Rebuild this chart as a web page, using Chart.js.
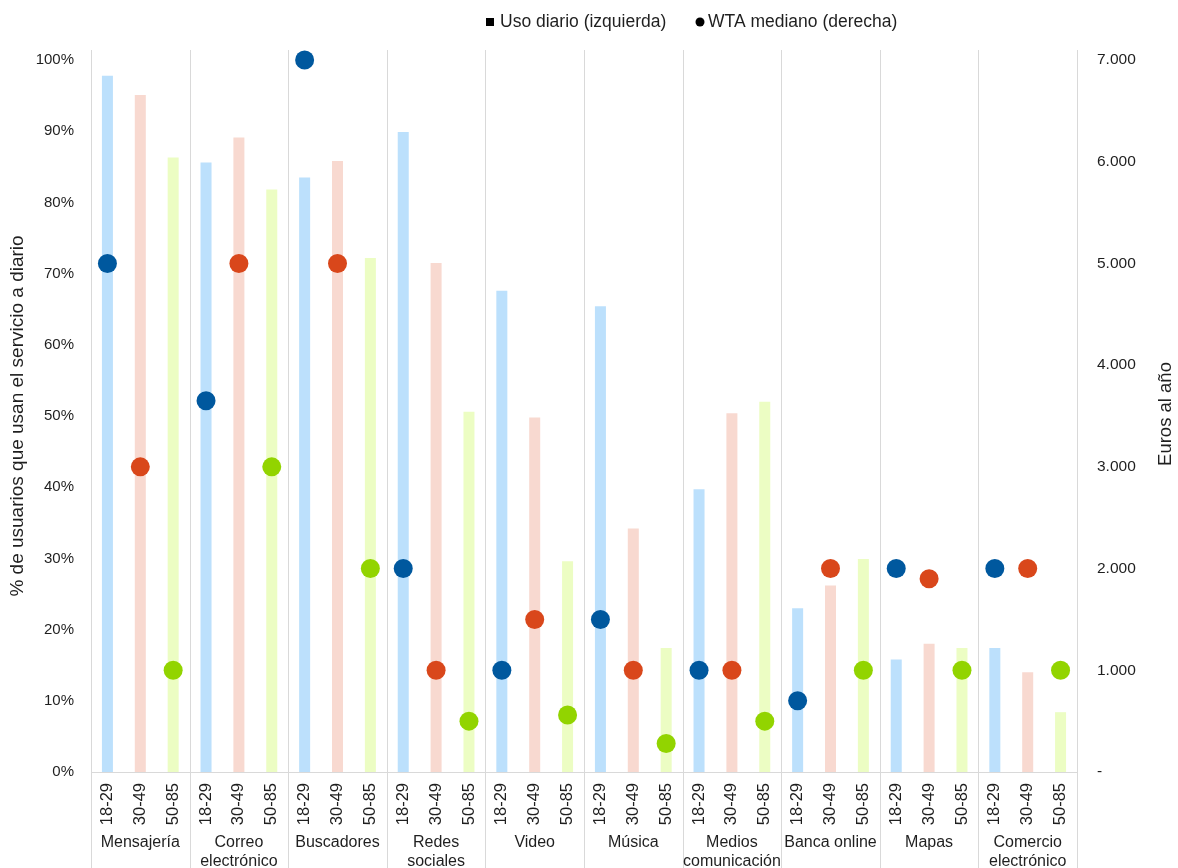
<!DOCTYPE html>
<html>
<head>
<meta charset="utf-8">
<script src="https://cdn.jsdelivr.net/npm/chart.js@4/dist/chart.umd.min.js"></script>
<style>
  html, body { margin: 0; padding: 0; background: #ffffff; }
  #wrap { width: 1178px; height: 868px; }
</style>
</head>
<body>
<div id="wrap"><canvas id="chart" width="1178" height="868"></canvas></div>
<script>
// Services (group names, split over lines) and age brackets
const services = [
  ['Mensajería'], ['Correo', 'electrónico'], ['Buscadores'], ['Redes', 'sociales'],
  ['Video'], ['Música'], ['Medios', 'comunicación'], ['Banca online'], ['Mapas'],
  ['Comercio', 'electrónico']
];
const ageGroups = ['18-29', '30-49', '50-85'];

// Share of users who use the service daily (%), per service: 18-29, 30-49, 50-85
const dailyUse = [
  97.8, 95.1, 86.3,
  85.6, 89.1, 81.8,
  83.5, 85.8, 72.2,
  89.9, 71.5, 50.6,
  67.6, 49.8, 29.6,
  65.4, 34.2, 17.4,
  39.7, 50.4, 52.0,
  23.0, 26.2, 29.9,
  15.8, 18.0, 17.4,
  17.4, 14.0, 8.4
];

// Median willingness to accept (euros per year), same order
const wtaMedian = [
  5000, 3000, 1000,
  3650, 5000, 3000,
  7000, 5000, 2000,
  2000, 1000, 500,
  1000, 1500, 560,
  1500, 1000, 280,
  1000, 1000, 500,
  700, 2000, 1000,
  2000, 1900, 1000,
  2000, 2000, 1000
];

// Axis ranges
const usageTicks = { min: 0, max: 100, step: 10 };
const euroTicks = { min: 0, max: 7000, step: 1000 };

const legendItems = ['Uso diario (izquierda)', 'WTA mediano (derecha)'];
const leftTitle = '% de usuarios que usan el servicio a diario';
const rightTitle = 'Euros al año';

const barColors = ['#bce0fc', '#f8d9d0', '#ecfdc3'];
const dotColors = ['#00589e', '#d9471b', '#92d400'];
const textColor = '#1f1f1f';
const lineColor = '#d9d9d9';
const FONT = '"Liberation Sans", Arial, Helvetica, sans-serif';

const labels = [];
services.forEach(() => ageGroups.forEach(a => labels.push(a)));

const fmtEuro = v => v === 0 ? '-' : String(v).replace(/\B(?=(\d{3})+(?!\d))/g, '.');

const decorations = {
  id: 'decorations',
  beforeDatasetsDraw(chart) {
    const { ctx, chartArea: area } = chart;
    const x = chart.scales.x;
    ctx.save();
    ctx.strokeStyle = lineColor;
    ctx.lineWidth = 1;
    for (let g = 0; g <= services.length; g++) {
      const px = Math.round(x.getPixelForValue(g * ageGroups.length - 0.5)) + 0.5;
      ctx.beginPath();
      ctx.moveTo(px, area.top - 10);
      ctx.lineTo(px, chart.height);
      ctx.stroke();
    }
    ctx.restore();
  },
  afterDraw(chart) {
    const { ctx, chartArea: area } = chart;
    const x = chart.scales.x;
    const y2 = chart.scales.y2;
    ctx.save();
    ctx.fillStyle = textColor;

    // service names under the age labels
    ctx.font = '16px ' + FONT;
    ctx.textAlign = 'center';
    ctx.textBaseline = 'middle';
    services.forEach((lines, g) => {
      const cx = x.getPixelForValue(g * ageGroups.length + 1);
      lines.forEach((t, k) => ctx.fillText(t, cx, area.bottom + 71 + k * 19));
    });

    // right axis title, reading bottom to top
    ctx.font = '18.5px ' + FONT;
    ctx.save();
    ctx.translate(y2.right - 12, (area.top + area.bottom) / 2 - 2);
    ctx.rotate(-Math.PI / 2);
    ctx.fillText(rightTitle, 0, 0);
    ctx.restore();

    // legend
    ctx.font = '17.5px ' + FONT;
    ctx.textAlign = 'left';
    ctx.fillStyle = '#000000';
    const ly = 22;
    ctx.fillRect(486, ly - 4, 8, 8);
    ctx.fillStyle = textColor;
    ctx.fillText(legendItems[0], 500, ly);
    ctx.fillStyle = '#000000';
    ctx.beginPath();
    ctx.arc(700, ly, 4.5, 0, Math.PI * 2);
    ctx.fill();
    ctx.fillStyle = textColor;
    ctx.fillText(legendItems[1], 708, ly);
    ctx.restore();
  }
};

new Chart(document.getElementById('chart'), {
  data: {
    labels,
    datasets: [
      {
        type: 'line',
        label: legendItems[1],
        data: wtaMedian,
        yAxisID: 'y2',
        showLine: false,
        pointRadius: 9.5,
        pointHoverRadius: 9.5,
        pointBorderWidth: 0,
        pointBackgroundColor: wtaMedian.map((_, i) => dotColors[i % 3]),
        pointBorderColor: wtaMedian.map((_, i) => dotColors[i % 3]),
        clip: false,
        order: 0
      },
      {
        type: 'bar',
        label: legendItems[0],
        data: dailyUse,
        yAxisID: 'y',
        backgroundColor: dailyUse.map((_, i) => barColors[i % 3]),
        borderWidth: 0,
        barPercentage: 0.335,
        categoryPercentage: 1,
        order: 1
      }
    ]
  },
  options: {
    responsive: false,
    animation: false,
    devicePixelRatio: 1,
    layout: { padding: { top: 60, left: 0, right: 0, bottom: 0 } },
    plugins: {
      legend: { display: false },
      tooltip: { enabled: false }
    },
    scales: {
      x: {
        type: 'category',
        offset: true,
        grid: { display: false, drawTicks: false },
        border: { display: true, color: lineColor, width: 1 },
        ticks: {
          autoSkip: false,
          minRotation: 90,
          maxRotation: 90,
          padding: 11,
          color: textColor,
          font: { family: FONT, size: 16.5 }
        },
        afterFit(scale) { scale.height = 96; }
      },
      y: {
        position: 'left',
        min: usageTicks.min,
        max: usageTicks.max,
        grid: { display: false, drawTicks: false },
        border: { display: false },
        ticks: {
          stepSize: usageTicks.step,
          padding: 17,
          color: textColor,
          font: { family: FONT, size: 15 },
          callback: v => v + '%'
        },
        title: {
          display: true,
          text: leftTitle,
          color: textColor,
          font: { family: FONT, size: 19 },
          padding: { top: 6, bottom: 0 }
        },
        afterFit(scale) { scale.width = 91; }
      },
      y2: {
        position: 'right',
        min: euroTicks.min,
        max: euroTicks.max,
        grid: { display: false, drawTicks: false },
        border: { display: false },
        ticks: {
          stepSize: euroTicks.step,
          padding: 20,
          color: textColor,
          font: { family: FONT, size: 15.5 },
          callback: v => fmtEuro(v)
        },
        afterFit(scale) { scale.width = 101; }
      }
    }
  },
  plugins: [decorations]
});
</script>
</body>
</html>
